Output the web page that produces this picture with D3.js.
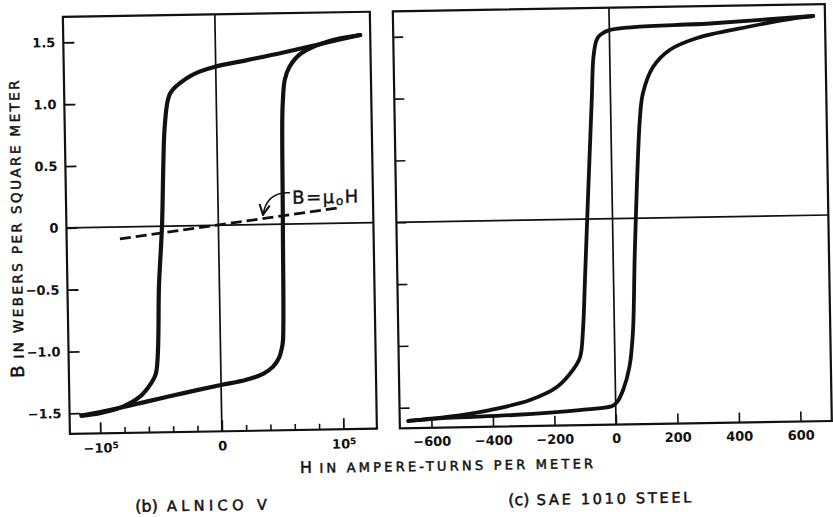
<!DOCTYPE html>
<html>
<head>
<meta charset="utf-8">
<script src="https://cdn.jsdelivr.net/npm/d3@7"></script>
<style>
body { margin: 0; background: #fff; }
svg text { font-family: "DejaVu Sans", sans-serif; fill: #111; }
</style>
</head>
<body>
<svg width="833" height="517"></svg>
<script>
// hysteresis loops, H in A/m, B in Wb/m^2
var alnicoDownH = [119200, 90000, 55800, 25000, -600, -13400, -22000, -29700, -35000, -38000, -39800, -41000, -43200, -44500, -46400, -49600, -53400, -57600, -67000, -81100, -100000, -115200];
var alnicoDownB = [1.519, 1.46, 1.388, 1.33, 1.283, 1.245, 1.205, 1.155, 1.11, 1.07, 1.02, 0.96, 0.754, 0.484, 0, -0.46, -1.188, -1.268, -1.375, -1.453, -1.503, -1.52];
var alnicoUpH = [-115200, -90000, -58800, -30000, -100, 20000, 35000, 43000, 48000, 50500, 51500, 53000, 54000, 54800, 56600, 60800, 70500, 92000, 119200];
var alnicoUpB = [-1.52, -1.475, -1.41, -1.35, -1.291, -1.255, -1.205, -1.15, -1.08, -1.0, -0.94, -0.02, 0.844, 1.005, 1.167, 1.274, 1.38, 1.47, 1.519];
var airLineH = [-81200, 98700];
var airLineB = [-0.097, 0.124];

var steelDownH = [664, 339, 2, -30, -42, -53, -61, -79, -93, -102, -113, -137, -190, -278, -409, -549, -675];
var steelDownB = [1.611, 1.566, 1.526, 1.487, 1.447, 1.312, 0.962, 0.154, -0.492, -0.89, -1.114, -1.218, -1.354, -1.455, -1.531, -1.581, -1.608];
var steelUpH = [-675, -549, -334, -118, -11, 5, 25, 47, 60, 71, 95, 106, 140, 195, 285, 448, 611, 664];
var steelUpB = [-1.608, -1.589, -1.574, -1.543, -1.515, -1.483, -1.387, -1.2, -0.924, -0.256, 0.818, 1.012, 1.22, 1.356, 1.449, 1.531, 1.598, 1.611];

var bTicks = [-1.5, -1, -0.5, 0, 0.5, 1, 1.5];
var alnicoMajor = [-100000, 0, 100000];
var alnicoMinor = [-80000, -60000, -40000, -20000, 20000, 40000, 60000, 80000];
var steelTicks = [-600, -400, -200, 0, 200, 400, 600];

var svg = d3.select("svg");
var defs = svg.append("defs");
defs.append("marker").attr("id", "arr")
    .attr("viewBox", "0 0 10 10").attr("refX", 9).attr("refY", 5)
    .attr("markerWidth", 8).attr("markerHeight", 8).attr("orient", "auto")
    .append("path").attr("d", "M1,1 L9,5 L1,9")
    .attr("fill", "none").attr("stroke", "#111").attr("stroke-width", 1.6);

// the scanned figure sits slightly rotated
var g = svg.append("g").attr("transform", "rotate(-0.97,416,258)");

var y = d3.scaleLinear().domain([-1.666, 1.706]).range([428, 11]);
var xL = d3.scaleLinear().domain([-125000, 127500]).range([67, 374]);
var xR = d3.scaleLinear().domain([-703, 702]).range([397, 829]);

function fmtB(d) { return d === 0 ? "0" : d3.format(".1f")(d); }

function styleAxis(sel, w) {
    sel.select(".domain").remove();
    sel.selectAll(".tick line").attr("stroke", "#111").attr("stroke-width", w);
    sel.selectAll(".tick text").attr("font-size", 13).attr("font-weight", "bold")
        .attr("font-family", "DejaVu Sans, sans-serif").attr("fill", "#111");
}

function drawFrame(x) {
    var p = g.append("g");
    var x0 = x.range()[0], x1 = x.range()[1];
    var y0 = y.range()[1], y1 = y.range()[0];
    p.append("line").attr("x1", x(0)).attr("x2", x(0)).attr("y1", y0).attr("y2", y1)
        .attr("stroke", "#111").attr("stroke-width", 1.7);
    p.append("line").attr("x1", x0).attr("x2", x1).attr("y1", y(0)).attr("y2", y(0))
        .attr("stroke", "#111").attr("stroke-width", 1.7);
    p.append("rect").attr("x", x0).attr("y", y0).attr("width", x1 - x0).attr("height", y1 - y0)
        .attr("fill", "none").attr("stroke", "#111").attr("stroke-width", 2.2);
    return p;
}

function drawLoop(p, x, H, B, w) {
    var line = d3.line().x(function (d) { return x(d[0]); }).y(function (d) { return y(d[1]); })
        .curve(d3.curveCatmullRom.alpha(0.5));
    p.append("path").datum(d3.zip(H, B)).attr("d", line)
        .attr("fill", "none").attr("stroke", "#111").attr("stroke-width", w)
        .attr("stroke-linecap", "round").attr("stroke-linejoin", "round");
}

// (b) Alnico V
var pL = drawFrame(xL);
pL.append("g").attr("transform", "translate(" + xL.range()[0] + ",0)")
    .call(d3.axisLeft(y).tickValues(bTicks).tickSize(-11).tickPadding(8).tickFormat(fmtB))
    .call(styleAxis, 1.8);
pL.append("g").attr("transform", "translate(0," + y.range()[0] + ")")
    .call(d3.axisBottom(xL).tickValues(alnicoMinor).tickSize(-6).tickFormat(""))
    .call(styleAxis, 1.6);
var majL = pL.append("g").attr("transform", "translate(0," + y.range()[0] + ")")
    .call(d3.axisBottom(xL).tickValues(alnicoMajor).tickSize(-11).tickPadding(10).tickFormat(""))
    .call(styleAxis, 1.8);
majL.selectAll(".tick text").each(function (d) {
    var t = d3.select(this);
    if (d === 0) { t.text("0"); return; }
    t.append("tspan").text(d < 0 ? "\u221210" : "10");
    t.append("tspan").attr("font-size", 9).attr("dy", "-0.45em").text("5");
});
drawLoop(pL, xL, alnicoDownH, alnicoDownB, 4.2);
drawLoop(pL, xL, alnicoUpH, alnicoUpB, 4.2);
pL.append("path").datum(d3.zip(airLineH, airLineB))
    .attr("d", d3.line().x(function (d) { return xL(d[0]); }).y(function (d) { return y(d[1]); }))
    .attr("fill", "none").attr("stroke", "#111").attr("stroke-width", 2.8).attr("stroke-dasharray", "11,5");
// B = mu0 H callout
pL.append("path")
    .attr("d", "M" + xL(59300) + "," + y(0.253) + " Q" + xL(40300) + "," + y(0.267) + " " + xL(36800) + "," + y(0.078))
    .attr("fill", "none").attr("stroke", "#111").attr("stroke-width", 1.6).attr("marker-end", "url(#arr)");
var eq = pL.append("text").attr("x", xL(61000)).attr("y", y(0.165)).attr("font-size", 18)
    .attr("letter-spacing", 1.6).attr("stroke", "#111").attr("stroke-width", 0.4);
eq.append("tspan").text("B=\u03bc");
eq.append("tspan").attr("font-size", 12).attr("dy", 2).text("o");
eq.append("tspan").attr("dy", -2).text("H");

// (c) SAE 1010 steel
var pR = drawFrame(xR);
pR.append("g").attr("transform", "translate(" + xR.range()[0] + ",0)")
    .call(d3.axisLeft(y).tickValues(bTicks).tickSize(-10).tickFormat(""))
    .call(styleAxis, 1.6);
pR.append("g").attr("transform", "translate(0," + y.range()[0] + ")")
    .call(d3.axisBottom(xR).tickValues(steelTicks).tickSize(-10).tickPadding(9))
    .call(styleAxis, 1.6);
drawLoop(pR, xR, steelDownH, steelDownB, 3.8);
drawLoop(pR, xR, steelUpH, steelUpB, 3.8);

// titles: lead letter plus a spaced-out run of small caps
function label(x, y0, rot, lead, leadSize, rest, restSize, restLen) {
    var t = g.append("text").attr("transform", "translate(" + x + "," + y0 + ") rotate(" + rot + ")")
        .attr("stroke", "#111").attr("stroke-width", 0.5);
    t.append("tspan").attr("font-size", leadSize).text(lead);
    t.append("tspan").attr("font-size", restSize)
        .attr("textLength", restLen).attr("lengthAdjust", "spacing").text(rest);
}
label(22, 371, -90, "B", 18, " IN WEBERS PER SQUARE METER", 13.5, 285);
label(296.5, 471, 0, "H", 16, " IN AMPERE-TURNS PER METER", 13, 281);
label(131, 507, 0, "(b)", 16, " ALNICO V", 14.5, 109);
label(504, 507, 0, "(c)", 16, " SAE 1010 STEEL", 14.5, 162);
</script>
</body>
</html>
